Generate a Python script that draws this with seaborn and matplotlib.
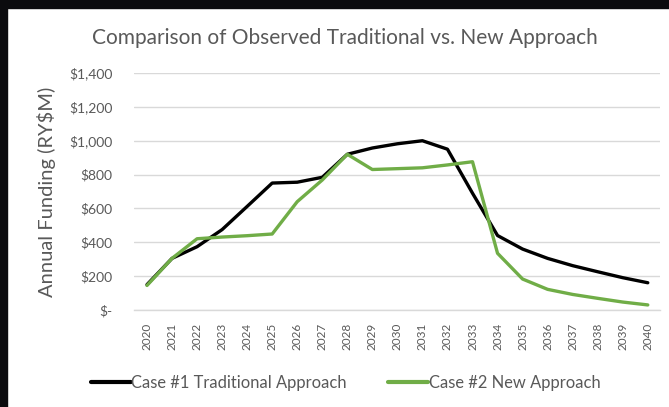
import matplotlib
matplotlib.use("Agg")
import matplotlib.pyplot as plt
import seaborn as sns
import pandas as pd
from matplotlib.patches import Rectangle
from matplotlib.lines import Line2D
from matplotlib.ticker import FuncFormatter

years = [str(y) for y in range(2020, 2041)]
traditional = [150, 305, 374, 475, 612, 750, 755, 784, 920, 957, 982, 1000, 950,
               690, 440, 360, 305, 262, 226, 191, 161]
new_approach = [145, 305, 421, 431, 439, 449, 640, 768, 920, 830, 835, 840, 857,
                876, 335, 183, 122, 92, 69, 47, 30]
series_names = ["Case #1 Traditional Approach", "Case #2 New Approach"]
yticks = [0, 200, 400, 600, 800, 1000, 1200, 1400]

df = pd.DataFrame({
    "Year": years * 2,
    "Funding": traditional + new_approach,
    "Series": [series_names[0]] * len(years) + [series_names[1]] * len(years),
})

sns.set_style("white")
plt.rcParams["font.family"] = ["Lato", "DejaVu Sans"]

fig = plt.figure(figsize=(6.69, 4.07), dpi=100)
ax = fig.add_axes([0.201, 0.2383, 0.786, 0.5823])

palette = {series_names[0]: "#000000", series_names[1]: "#70AD47"}
sns.lineplot(data=df, x="Year", y="Funding", hue="Series", palette=palette,
             linewidth=2.4, ax=ax, sort=False, legend=False)

ax.set_xlim(-0.5, len(years) - 0.5)
ax.set_ylim(0, 1400)
ax.set_yticks(yticks)
ax.yaxis.set_major_formatter(FuncFormatter(lambda v, p: "$-" if v == 0 else f"${v:,.0f}"))
ax.grid(axis="y", color="#D9D9D9", linewidth=1)
ax.set_axisbelow(True)
for s in ["top", "right", "left"]:
    ax.spines[s].set_visible(False)
ax.spines["bottom"].set_color("#D9D9D9")
ax.spines["bottom"].set_linewidth(1)

ax.tick_params(axis="x", rotation=90, labelsize=8.5, colors="#595959", length=0, pad=9)
ax.tick_params(axis="y", labelsize=10, colors="#595959", length=0, pad=16)
ax.set_xlabel("")
ax.set_ylabel("Annual Funding (RY$M)", fontsize=14.5, color="#595959")
ax.yaxis.set_label_coords(56 / 669, 1 - 192 / 407, transform=fig.transFigure)

fig.text(345 / 669, 1 - 38 / 407, "Comparison of Observed Traditional vs. New Approach",
         ha="center", va="center", fontsize=15, color="#595959")

handles = [Line2D([], [], color="#000000", linewidth=3),
           Line2D([], [], color="#70AD47", linewidth=3)]
fig.legend(handles, series_names, loc="center left", bbox_to_anchor=(76 / 669, 1 - 383 / 407),
           ncol=2, frameon=False, fontsize=11.9, handlelength=2.4, handletextpad=0.05,
           columnspacing=2.5, labelcolor="#595959")

# black screenshot border (top and left)
fig.add_artist(Rectangle((0, 1 - 8 / 407), 1, 8 / 407, transform=fig.transFigure,
                         color="#0b0b0e", zorder=10))
fig.add_artist(Rectangle((0, 0), 7 / 669, 1, transform=fig.transFigure,
                         color="#0b0b0e", zorder=10))

fig.savefig("out.png", dpi=100)
